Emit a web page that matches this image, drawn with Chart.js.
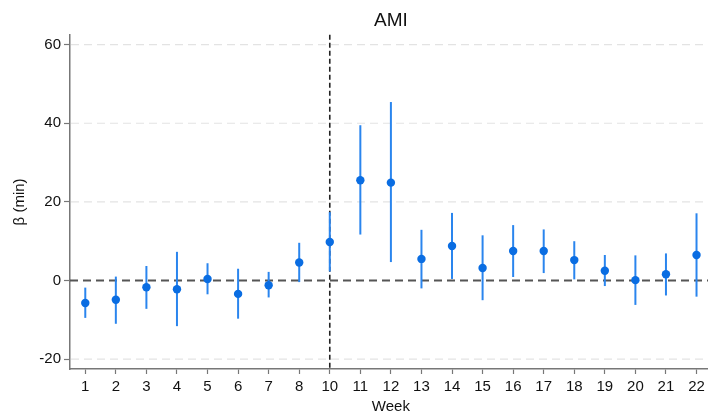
<!DOCTYPE html>
<html>
<head>
<meta charset="utf-8">
<script src="https://cdn.jsdelivr.net/npm/chart.js@4/dist/chart.umd.min.js"></script>
<style>
html,body{margin:0;padding:0;overflow:hidden;background:#fff;}
</style>
</head>
<body>
<canvas id="c" width="716" height="417"></canvas>
<script>
const weeks = ['1','2','3','4','5','6','7','8','10','11','12','13','14','15','16','17','18','19','20','21','22'];
const beta  = [-5.7,-4.9,-1.7,-2.2,0.4,-3.4,-1.2,4.6,9.8,25.5,24.9,5.5,8.8,3.2,7.5,7.5,5.2,2.5,0.1,1.6,6.5];
const lower = [-9.5,-11.0,-7.2,-11.6,-3.5,-9.7,-4.3,-0.4,2.3,11.7,4.7,-2.0,0.4,-5.0,0.9,1.9,0.3,-1.4,-6.2,-3.8,-4.1];
const upper = [-1.8,1.0,3.7,7.3,4.4,3.0,2.2,9.6,17.4,39.5,45.4,12.9,17.2,11.5,14.1,13.0,10.0,6.5,6.4,6.9,17.1];
const yTicks = [-20,0,20,40,60];
const refWeek = '10';
const refY = 0;

const FONT = "'Liberation Sans', Arial, Helvetica, sans-serif";

const errPlugin = {
  id: 'errbars',
  beforeDatasetsDraw(chart) {
    const {ctx, chartArea, scales:{x, y}} = chart;
    ctx.save();
    // dashed grid lines
    ctx.strokeStyle = '#e3e3e3';
    ctx.lineWidth = 1.2;
    ctx.setLineDash([8,5]);
    for (const v of yTicks) {
      if (v === refY) continue;
      const gy = y.getPixelForValue(v);
      ctx.beginPath();
      ctx.moveTo(chartArea.left + 1, gy);
      ctx.lineTo(chartArea.right, gy);
      ctx.stroke();
    }
    // horizontal reference line
    const y0 = y.getPixelForValue(refY);
    ctx.strokeStyle = '#555';
    ctx.lineWidth = 2;
    ctx.setLineDash([8,5]);
    ctx.beginPath();
    ctx.moveTo(chartArea.left, y0);
    ctx.lineTo(chartArea.right, y0);
    ctx.stroke();
    // vertical reference line
    const xv = x.getPixelForValue(weeks.indexOf(refWeek));
    ctx.strokeStyle = '#222';
    ctx.lineWidth = 1.6;
    ctx.setLineDash([5,3]);
    ctx.beginPath();
    ctx.moveTo(xv, chartArea.top);
    ctx.lineTo(xv, chartArea.bottom);
    ctx.stroke();
    // error bars
    ctx.setLineDash([]);
    ctx.strokeStyle = '#2a85ee';
    ctx.lineWidth = 2;
    for (let i = 0; i < weeks.length; i++) {
      const px = x.getPixelForValue(i);
      ctx.beginPath();
      ctx.moveTo(px, y.getPixelForValue(lower[i]));
      ctx.lineTo(px, y.getPixelForValue(upper[i]));
      ctx.stroke();
    }
    ctx.restore();
  }
};

new Chart(document.getElementById('c'), {
  type: 'line',
  data: {
    labels: weeks,
    datasets: [{
      data: beta,
      showLine: false,
      pointRadius: 4.2,
      pointHoverRadius: 4.2,
      pointBackgroundColor: '#0a6de2',
      pointBorderWidth: 0,
      borderColor: '#0a6de2'
    }]
  },
  options: {
    responsive: false,
    devicePixelRatio: 1,
    animation: false,
    layout: {padding: {left: 0, right: 2, top: 0, bottom: 0}},
    plugins: {
      legend: {display: false},
      tooltip: {enabled: false},
      title: {
        display: true,
        text: 'AMI',
        fullSize: false,
        color: '#111',
        font: {family: FONT, size: 19, weight: 'normal'},
        padding: {top: 9.5, bottom: 2.5}
      }
    },
    scales: {
      x: {
        type: 'category',
        offset: true,
        afterFit(s) { s.height = 48; },
        border: {display: true, color: '#777', width: 1.5},
        grid: {drawOnChartArea: false, drawTicks: true, tickLength: 5, tickColor: '#777', tickWidth: 1.2},
        ticks: {color: '#111', font: {family: FONT, size: 15}, padding: 4, maxRotation: 0, autoSkip: false},
        title: {display: true, text: 'Week', color: '#111', font: {family: FONT, size: 15}, padding: {top: 0, bottom: 1.5}}
      },
      y: {
        min: -22.5,
        max: 62.5,
        afterFit(s) { s.width = 70; },
        afterBuildTicks(s) { s.ticks = yTicks.map(v => ({value: v})); },
        border: {display: true, color: '#777', width: 1.5},
        grid: {
          drawOnChartArea: false,
          drawTicks: true, tickLength: 6, tickColor: '#777', tickWidth: 1.2
        },
        ticks: {color: '#111', font: {family: FONT, size: 15}, padding: 3},
        title: {display: true, text: 'β (min)', color: '#111', font: {family: FONT, size: 15}, padding: {top: 10.5, bottom: 0}}
      }
    }
  },
  plugins: [errPlugin]
});
</script>
</body>
</html>
